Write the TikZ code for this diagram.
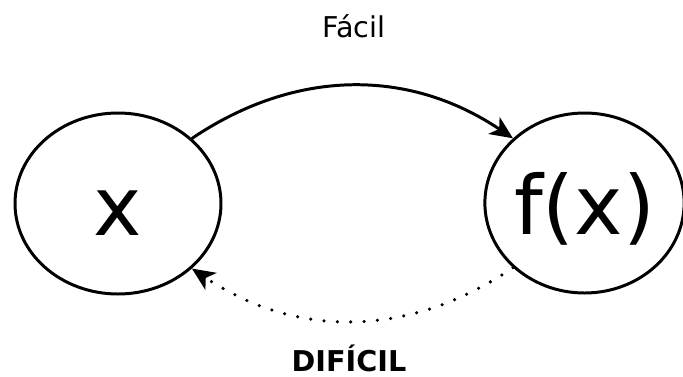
\documentclass[tikz,border=0pt]{standalone}
\usepackage{fontspec}
\setmainfont{DejaVu Sans}
\usetikzlibrary{shapes.geometric,arrows.meta}

\tikzset{
    setbox/.style={ellipse, draw, line width=1.7pt, inner sep=0pt,
        font=\fontsize{46.5}{50}\selectfont, text height=40pt, text depth=4pt},
    easyarrow/.style={-{Stealth[length=13pt,width=11.5pt,inset=3.5pt]}, line width=1.7pt},
    hardarrow/.style={-{Stealth[length=13pt,width=11.5pt,inset=3.5pt]}, line width=2pt,
        line cap=round, dash pattern=on 0pt off 7.6pt},
    caption/.style={font=\fontsize{16.3}{18}\selectfont, anchor=base}
}

\begin{document}
\begin{tikzpicture}
    \useasboundingbox (0,0) rectangle (13.66,7.52);

    % domain and image
    \node[setbox, minimum width=4.12cm, minimum height=3.62cm] (x) at (2.36,3.45) {x};
    \node[setbox, minimum width=3.9cm, minimum height=3.6cm] (fx) at (11.69,3.46) {f(x)};

    % one way is easy, the way back is not
    \draw[easyarrow] (x.north east) to[bend left=34] (fx.north west);
    \draw[hardarrow] (fx.south west) to[bend left=34] (x.south east);

    \node[caption] (easy) at (7.08,6.78) {Fácil};
    \node[caption, font=\fontsize{16.3}{18}\selectfont\bfseries] (hard) at (6.98,0.10) {DIFÍCIL};
\end{tikzpicture}
\end{document}
